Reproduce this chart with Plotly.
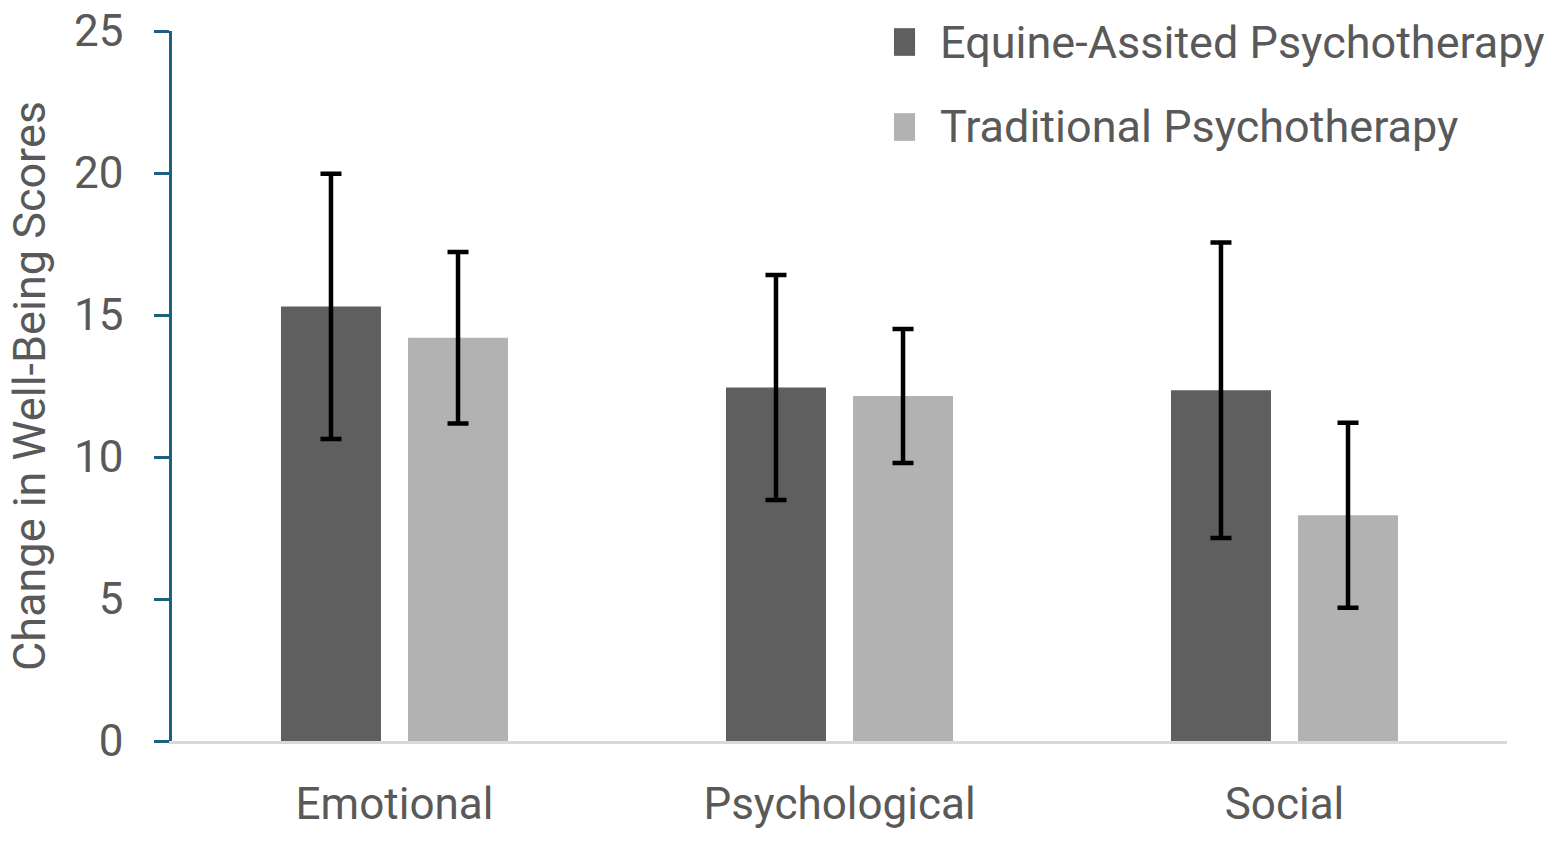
import plotly.graph_objects as go

categories = ["Emotional", "Psychological", "Social"]
series_names = ["Equine-Assited Psychotherapy", "Traditional Psychotherapy"]
eap_values = [15.3, 12.45, 12.35]
eap_errors = [4.67, 3.96, 5.2]
tp_values = [14.2, 12.15, 7.95]
tp_errors = [3.02, 2.36, 3.26]
y_ticks = [0, 5, 10, 15, 20, 25]

FONT = "Roboto, Noto Sans, sans-serif"
TXT = "#595959"
AX = "#1f5f7f"
colors = ["#5f5f5f", "#b2b2b2"]

fig = go.Figure()
for name, vals, errs, col in [
    (series_names[0], eap_values, eap_errors, colors[0]),
    (series_names[1], tp_values, tp_errors, colors[1]),
]:
    fig.add_trace(go.Bar(
        x=categories, y=vals, name=name, marker_color=col, marker_line_width=0,
        error_y=dict(type="data", array=errs, visible=True, color="black",
                     thickness=4.5, width=10.5),
        showlegend=False,
    ))

# manual legend (large square swatches)
leg_y = [0.9845, 0.8648]
for i, name in enumerate(series_names):
    fig.add_shape(type="rect", xref="paper", yref="paper",
                  x0=0.5408, x1=0.5566, y0=leg_y[i] - 0.0195, y1=leg_y[i] + 0.0195,
                  fillcolor=colors[i], line_width=0)
    fig.add_annotation(xref="paper", yref="paper", x=0.5735, y=leg_y[i],
                       text=name, showarrow=False, xanchor="left", yanchor="middle",
                       font=dict(family=FONT, size=45, color=TXT))

fig.update_layout(
    width=1560, height=843,
    margin=dict(l=172, r=53, t=31, b=102),
    paper_bgcolor="white", plot_bgcolor="white",
    barmode="group", bargap=0.429, bargroupgap=0.213,
    font=dict(family=FONT, size=44, color=TXT),
    xaxis=dict(showline=True, linecolor="#d9d9d9", linewidth=2.5, ticks="",
               showgrid=False, tickfont=dict(size=44, color=TXT),
               ticklabelstandoff=22, automargin=False),
    yaxis=dict(range=[0, 25], tickvals=y_ticks, showgrid=False, zeroline=False,
               showline=True, linecolor=AX, linewidth=2.5,
               ticks="outside", ticklen=15, tickwidth=2.5, tickcolor=AX,
               tickfont=dict(size=44, color=TXT), ticklabelstandoff=22,
               ticklabeloverflow="allow", automargin=False,
               title=dict(text="Change in Well-Being Scores",
                          font=dict(size=45, color=TXT), standoff=15)),
)

fig.write_html("out.html", config={"displayModeBar": False},
               post_script="document.body.style.margin='0';document.body.style.overflow='hidden';")
